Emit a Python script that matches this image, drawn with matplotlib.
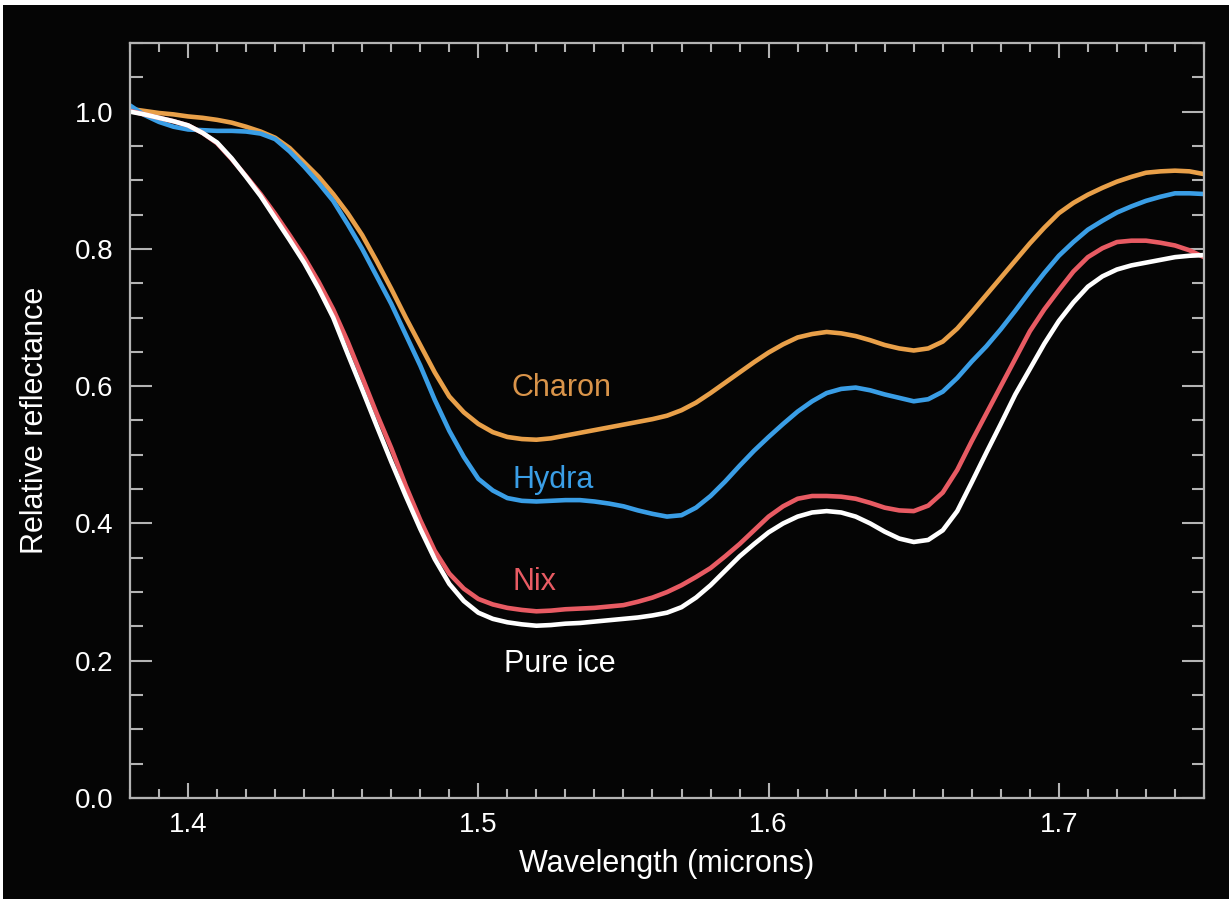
import matplotlib
matplotlib.use('Agg')
from matplotlib import pyplot as plt
from matplotlib.patches import Rectangle
from matplotlib.ticker import MultipleLocator

# wavelength grid, 1.380 .. 1.750 in 0.005 steps
wavelength = [round(1.38 + 0.005 * i, 3) for i in range(75)]

charon = [1.004, 1.001, 0.998, 0.996, 0.993, 0.991, 0.988, 0.984, 0.978, 0.971,
          0.962, 0.947, 0.926, 0.905, 0.880, 0.852, 0.820, 0.782, 0.742, 0.700,
          0.660, 0.620, 0.585, 0.562, 0.545, 0.533, 0.526, 0.523, 0.522, 0.524,
          0.528, 0.532, 0.536, 0.540, 0.544, 0.548, 0.552, 0.557, 0.565, 0.576,
          0.590, 0.605, 0.620, 0.635, 0.649, 0.661, 0.671, 0.676, 0.679, 0.677,
          0.673, 0.667, 0.660, 0.655, 0.652, 0.655, 0.665, 0.684, 0.708, 0.733,
          0.758, 0.783, 0.808, 0.831, 0.852, 0.867, 0.879, 0.889, 0.898, 0.905,
          0.911, 0.913, 0.914, 0.913, 0.909]

hydra = [1.009, 0.995, 0.985, 0.978, 0.974, 0.973, 0.972, 0.972, 0.971, 0.968,
         0.960, 0.942, 0.920, 0.896, 0.870, 0.836, 0.800, 0.760, 0.720, 0.675,
         0.630, 0.580, 0.535, 0.497, 0.465, 0.448, 0.437, 0.433, 0.432, 0.433,
         0.434, 0.434, 0.432, 0.429, 0.425, 0.419, 0.414, 0.410, 0.412, 0.423,
         0.440, 0.461, 0.484, 0.506, 0.526, 0.545, 0.563, 0.578, 0.590, 0.596,
         0.598, 0.594, 0.588, 0.583, 0.578, 0.581, 0.592, 0.612, 0.636, 0.658,
         0.683, 0.710, 0.738, 0.765, 0.790, 0.810, 0.828, 0.841, 0.853, 0.862,
         0.870, 0.876, 0.881, 0.881, 0.880]

nix = [1.001, 0.996, 0.991, 0.986, 0.980, 0.969, 0.954, 0.931, 0.906, 0.880,
       0.851, 0.820, 0.788, 0.752, 0.712, 0.665, 0.613, 0.560, 0.510, 0.455,
       0.405, 0.360, 0.327, 0.305, 0.290, 0.282, 0.277, 0.274, 0.272, 0.273,
       0.275, 0.276, 0.277, 0.279, 0.281, 0.286, 0.292, 0.300, 0.310, 0.322,
       0.335, 0.352, 0.370, 0.390, 0.410, 0.425, 0.436, 0.440, 0.440, 0.439,
       0.436, 0.430, 0.423, 0.419, 0.418, 0.426, 0.445, 0.478, 0.520, 0.560,
       0.600, 0.640, 0.680, 0.712, 0.740, 0.767, 0.788, 0.801, 0.810, 0.812,
       0.812, 0.809, 0.805, 0.798, 0.788]

pure_ice = [1.000, 0.996, 0.991, 0.986, 0.980, 0.969, 0.955, 0.932, 0.905, 0.877,
            0.845, 0.813, 0.780, 0.742, 0.700, 0.647, 0.595, 0.542, 0.490, 0.440,
            0.392, 0.348, 0.312, 0.287, 0.270, 0.261, 0.256, 0.253, 0.251, 0.252,
            0.254, 0.255, 0.257, 0.259, 0.261, 0.263, 0.266, 0.270, 0.278, 0.292,
            0.310, 0.331, 0.352, 0.370, 0.387, 0.400, 0.410, 0.416, 0.418, 0.416,
            0.410, 0.400, 0.388, 0.378, 0.373, 0.376, 0.390, 0.418, 0.460, 0.503,
            0.545, 0.588, 0.625, 0.662, 0.695, 0.722, 0.745, 0.760, 0.770, 0.776,
            0.780, 0.784, 0.788, 0.790, 0.791]

series = [
    (charon, '#E9A049', 'Charon', 1.5115, 0.597, '#D9944A'),
    (hydra, '#3A9EE6', 'Hydra', 1.5118, 0.464, '#3A9EE6'),
    (nix, '#E85B63', 'Nix', 1.5118, 0.315, '#E85B63'),
    (pure_ice, '#FFFFFF', 'Pure ice', 1.5090, 0.195, '#FFFFFF'),
]

plt.rcParams['font.family'] = ['Liberation Sans', 'DejaVu Sans']

fig = plt.figure(figsize=(12.29, 8.99), dpi=100, facecolor='white')
fig.patches.append(Rectangle((3 / 1229, 0), 1, 1 - 5 / 899, transform=fig.transFigure,
                             facecolor='#050505', edgecolor='none', zorder=-10))

ax = fig.add_axes([130 / 1229, 1 - 798 / 899, (1204 - 130) / 1229, (798 - 43) / 899])
ax.set_facecolor('#050505')

for values, color, name, tx, ty, tcolor in series:
    ax.plot(wavelength, values, color=color, lw=3.3, solid_capstyle='round',
            solid_joinstyle='round')
    ax.text(tx, ty, name, color=tcolor, fontsize=22, va='center', ha='left')

ax.set_xlim(1.38, 1.75)
ax.set_ylim(0, 1.1)
ax.xaxis.set_major_locator(MultipleLocator(0.1))
ax.xaxis.set_minor_locator(MultipleLocator(0.01))
ax.yaxis.set_major_locator(MultipleLocator(0.2))
ax.yaxis.set_minor_locator(MultipleLocator(0.05))
ax.xaxis.set_major_formatter(plt.FuncFormatter(lambda v, p: '%.1f' % v))
ax.yaxis.set_major_formatter(plt.FuncFormatter(lambda v, p: '%.1f' % v))

spine_color = '#b4b4b4'
for s in ax.spines.values():
    s.set_color(spine_color)
    s.set_linewidth(1.6)

ax.tick_params(axis='x', which='major', direction='in', length=11, width=1.5,
               color=spine_color, top=True, labelsize=20, labelcolor='white', pad=10)
ax.tick_params(axis='x', which='minor', direction='in', length=6.5, width=1.5,
               color=spine_color, top=True)
ax.tick_params(axis='y', which='major', direction='in', length=16, width=1.5,
               color=spine_color, right=True, labelsize=20, labelcolor='white', pad=12)
ax.tick_params(axis='y', which='minor', direction='in', length=9, width=1.5,
               color=spine_color, right=True)

ax.set_xlabel('Wavelength (microns)', color='white', fontsize=22, labelpad=8)
ax.set_ylabel('Relative reflectance', color='white', fontsize=22, labelpad=18)

fig.savefig('out.png', dpi=100, facecolor=fig.get_facecolor())
